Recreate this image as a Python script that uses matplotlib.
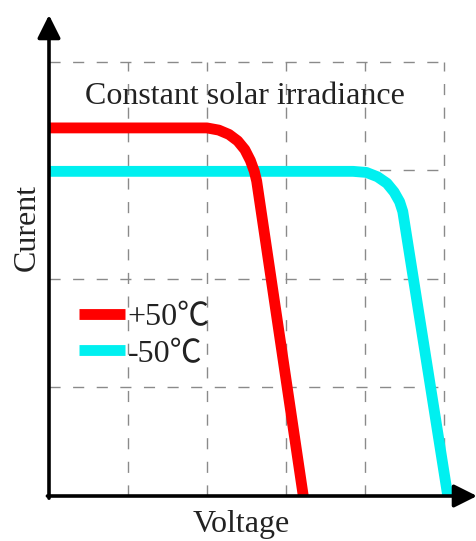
import matplotlib

matplotlib.use("Agg")

import matplotlib.pyplot as plt


# I-V curves at two temperatures (arbitrary units, grid cell = 1)
red_v = [0.0, 2.0, 2.15, 2.28, 2.39, 2.48, 2.55, 2.6, 2.63, 3.22]
red_i = [3.39, 3.39, 3.37, 3.33, 3.27, 3.19, 3.09, 2.99, 2.9, 0.0]
cyan_v = [0.0, 3.85, 4.02, 4.16, 4.28, 4.37, 4.44, 4.48, 5.05]
cyan_i = [2.99, 2.99, 2.98, 2.94, 2.88, 2.8, 2.71, 2.62, 0.0]

labels = ["+50\u2103", "-50\u2103"]
colors = ["#ff0000", "#00f0f0"]

grid_x = [1, 2, 3, 4, 5]
grid_y = [1, 2, 3, 4]

x_max = 5.42
y_max = 4.43

serif = ["Liberation Serif", "Noto Sans CJK SC", "DejaVu Serif"]
text_color = "#222222"
fsize = 23

fig = plt.figure(figsize=(4.77, 5.41), dpi=100)
ax = fig.add_axes([49 / 477, 45 / 541, 428 / 477, 481 / 541])
ax.set_xlim(0, x_max)
ax.set_ylim(0, y_max)
ax.set_axis_off()

# dashed grid box
for gx in grid_x:
    ax.plot([gx, gx], [0, grid_y[-1]], color="#8a8a8a", lw=1.0,
            dashes=(8, 9), zorder=1)
for gy in grid_y:
    ax.plot([0, grid_x[-1]], [gy, gy], color="#8a8a8a", lw=1.0,
            dashes=(8, 9), zorder=1)

ax.plot(red_v, red_i, color=colors[0], lw=7.8, solid_capstyle="butt",
        solid_joinstyle="round", label=labels[0], zorder=3)
ax.plot(cyan_v, cyan_i, color=colors[1], lw=7.8, solid_capstyle="butt",
        solid_joinstyle="round", label=labels[1], zorder=2)

# axes with arrow heads
arrow = dict(arrowstyle="-|>,head_length=1.4,head_width=0.7", lw=2.6,
             color="black", shrinkA=0, shrinkB=0)
ax.annotate("", xy=(x_max, 0), xytext=(-0.02, 0), arrowprops=arrow,
            annotation_clip=False, zorder=5)
ax.annotate("", xy=(0, y_max), xytext=(0, -0.02), arrowprops=arrow,
            annotation_clip=False, zorder=5)

ax.text(2.48, 3.68, "Constant solar irradiance", ha="center", va="center",
        fontsize=fsize, family=serif, color=text_color)
ax.text(2.43, -0.26, "Voltage", ha="center", va="center", fontsize=fsize,
        family=serif, color=text_color)
ax.text(-0.27, 2.47, "Curent", ha="center", va="center", rotation=90,
        fontsize=fsize, family=serif, color=text_color)

leg = ax.legend(loc="upper left", bbox_to_anchor=(0.04, 0.428), frameon=False,
                handlelength=1.45, handletextpad=0.08, labelspacing=0.22,
                borderaxespad=0.0, prop={"family": serif, "size": fsize})
for t in leg.get_texts():
    t.set_color(text_color)

fig.savefig("out.png", dpi=100)
